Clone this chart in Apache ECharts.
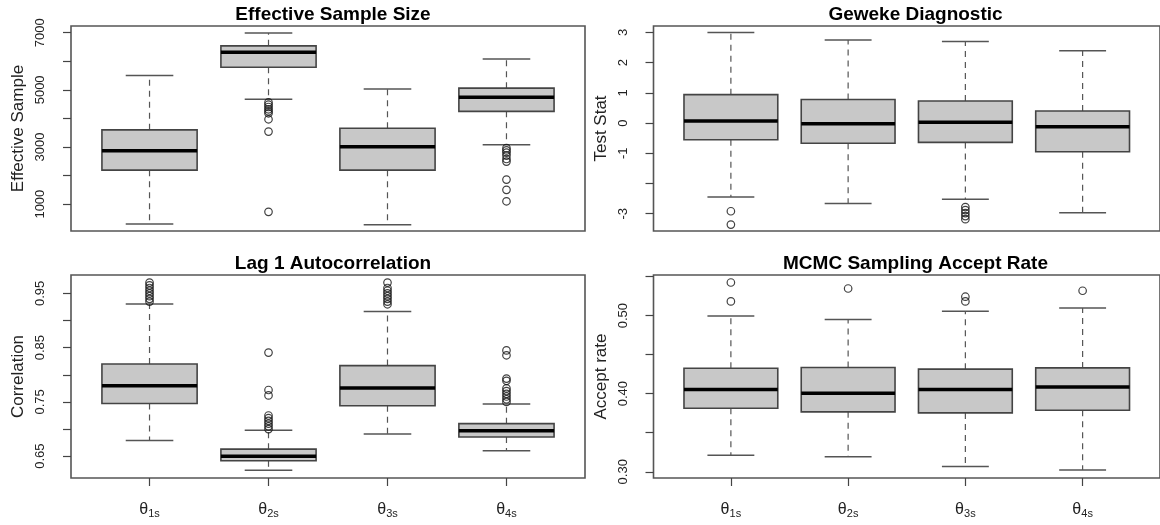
<!DOCTYPE html>
<html>
<head>
<meta charset="utf-8">
<script src="https://cdn.jsdelivr.net/npm/echarts@6/dist/echarts.min.js"></script>
<style>
  html, body { margin: 0; padding: 0; background: #fff; }
  #chart { width: 1160px; height: 525px; }
</style>
</head>
<body>
<div id="chart"></div>
<script>
// 参数名称 (θ 的下标)
var paramSubs = ['1s', '2s', '3s', '4s']

// 每个参数的箱线统计 [min, q1, median, q3, max]
var essStats = [
  [305, 2190, 2870, 3600, 5506],
  [4670, 5790, 6320, 6540, 6990],
  [283, 2190, 3010, 3657, 5034],
  [3082, 4247, 4740, 5060, 6082]
]
var essOutliers = [
  [2, 4560], [2, 4480], [2, 4400], [2, 4320], [2, 4250], [2, 4180], [2, 3970], [2, 3540], [2, 730],
  [4, 2960], [4, 2880], [4, 2800], [4, 2700], [4, 2580], [4, 2490], [4, 1860], [4, 1500], [4, 1100]
]

var gewekeStats = [
  [-2.45, -0.55, 0.07, 0.94, 3.0],
  [-2.66, -0.67, -0.02, 0.78, 2.75],
  [-2.52, -0.64, 0.03, 0.73, 2.70],
  [-2.97, -0.95, -0.12, 0.40, 2.39]
]
var gewekeOutliers = [
  [1, -2.92], [1, -3.36],
  [3, -2.78], [3, -2.88], [3, -2.98], [3, -3.08], [3, -3.18]
]

var lagStats = [
  [0.679, 0.747, 0.780, 0.820, 0.9305],
  [0.624, 0.6415, 0.650, 0.663, 0.698],
  [0.691, 0.743, 0.7756, 0.817, 0.9165],
  [0.660, 0.6854, 0.697, 0.710, 0.746]
]
var lagOutliers = [
  [1, 0.935], [1, 0.94], [1, 0.945], [1, 0.95], [1, 0.955], [1, 0.96], [1, 0.965], [1, 0.97],
  [2, 0.841], [2, 0.772], [2, 0.762], [2, 0.725], [2, 0.72], [2, 0.715], [2, 0.71], [2, 0.705], [2, 0.70],
  [3, 0.93], [3, 0.935], [3, 0.94], [3, 0.945], [3, 0.95], [3, 0.955], [3, 0.96], [3, 0.97],
  [4, 0.845], [4, 0.836], [4, 0.793], [4, 0.789], [4, 0.775], [4, 0.77], [4, 0.765], [4, 0.76], [4, 0.755], [4, 0.75]
]

var acceptStats = [
  [0.3212, 0.3814, 0.4055, 0.4326, 0.4996],
  [0.3191, 0.3767, 0.4004, 0.4335, 0.4949],
  [0.3068, 0.3754, 0.4055, 0.4314, 0.5055],
  [0.3021, 0.3788, 0.4085, 0.4330, 0.5097]
]
var acceptOutliers = [
  [1, 0.5424], [1, 0.5182],
  [2, 0.5347],
  [3, 0.5242], [3, 0.5182],
  [4, 0.5318]
]

// y 轴刻度 / 标签
var essTicks = [1000, 2000, 3000, 4000, 5000, 6000, 7000]
var essLabels = [1000, 3000, 5000, 7000]
var gewekeTicks = [-3, -2, -1, 0, 1, 2, 3]
var gewekeLabels = [-3, -1, 0, 1, 2, 3]
var lagTicks = [0.65, 0.70, 0.75, 0.80, 0.85, 0.90, 0.95]
var lagLabels = [0.65, 0.75, 0.85, 0.95]
var acceptTicks = [0.30, 0.35, 0.40, 0.45, 0.50, 0.55]
var acceptLabels = [0.30, 0.40, 0.50]

var FONT = 'Liberation Sans, Arial, Helvetica, sans-serif'

// 画 R 风格的箱线图
function renderBox (params, api) {
  var x = api.value(0)
  var pMin = api.coord([x, api.value(1)])
  var pQ1 = api.coord([x, api.value(2)])
  var pMed = api.coord([x, api.value(3)])
  var pQ3 = api.coord([x, api.value(4)])
  var pMax = api.coord([x, api.value(5)])
  var w = api.size([0.8, 0])[0]
  var cx = pMed[0]
  var whisker = { stroke: '#555', lineWidth: 1.2, lineDash: [6, 5] }
  var cap = { stroke: '#555', lineWidth: 1.5 }
  return {
    type: 'group',
    children: [
      { type: 'line', shape: { x1: cx, y1: pQ3[1], x2: cx, y2: pMax[1] }, style: whisker },
      { type: 'line', shape: { x1: cx, y1: pQ1[1], x2: cx, y2: pMin[1] }, style: whisker },
      { type: 'line', shape: { x1: cx - w / 4, y1: pMax[1], x2: cx + w / 4, y2: pMax[1] }, style: cap },
      { type: 'line', shape: { x1: cx - w / 4, y1: pMin[1], x2: cx + w / 4, y2: pMin[1] }, style: cap },
      {
        type: 'rect',
        shape: { x: cx - w / 2, y: pQ3[1], width: w, height: pQ1[1] - pQ3[1] },
        style: { fill: '#c8c8c8', stroke: '#444', lineWidth: 1.6 }
      },
      { type: 'line', shape: { x1: cx - w / 2, y1: pMed[1], x2: cx + w / 2, y2: pMed[1] }, style: { stroke: '#000', lineWidth: 3.5 } }
    ]
  }
}

function boxData (stats) {
  var out = []
  for (let i = 0; i < stats.length; i++) {
    out.push([i + 1].concat(stats[i]))
  }
  return out
}

// 面板位置
var panels = [
  { title: 'Effective Sample Size', yName: 'Effective Sample', left: 71, top: 26, height: 205, min: 60, max: 7235, ticks: essTicks, labels: essLabels, digits: 0, stats: essStats, outliers: essOutliers, xLabels: false },
  { title: 'Geweke Diagnostic', yName: 'Test Stat', left: 653.5, top: 26, height: 205, min: -3.573, max: 3.213, ticks: gewekeTicks, labels: gewekeLabels, digits: 0, stats: gewekeStats, outliers: gewekeOutliers, xLabels: false },
  { title: 'Lag 1 Autocorrelation', yName: 'Correlation', left: 71, top: 275, height: 203, min: 0.6098, max: 0.984, ticks: lagTicks, labels: lagLabels, digits: 2, stats: lagStats, outliers: lagOutliers, xLabels: true },
  { title: 'MCMC Sampling Accept Rate', yName: 'Accept rate', left: 653.5, top: 275, height: 203, min: 0.292, max: 0.552, ticks: acceptTicks, labels: acceptLabels, digits: 2, stats: acceptStats, outliers: acceptOutliers, xLabels: true }
]
var PW = 514

var option = { animation: false, title: [], grid: [], xAxis: [], yAxis: [], series: [] }

for (let i = 0; i < panels.length; i++) {
  var p = panels[i]
  option.title.push({
    text: p.title,
    left: p.left + PW / 2,
    top: p.top - 26,
    textAlign: 'center',
    textStyle: { fontFamily: FONT, fontSize: 19, fontWeight: 'bold', color: '#000' }
  })
  option.grid.push({
    left: p.left,
    top: p.top,
    width: PW,
    height: p.height,
    show: true,
    borderColor: '#555',
    borderWidth: 1.6,
    backgroundColor: 'transparent'
  })
  option.xAxis.push({
    type: 'value',
    gridIndex: i,
    min: 0.34,
    max: 4.66,
    splitLine: { show: false },
    axisLine: { show: false },
    axisTick: { show: p.xLabels, customValues: [1, 2, 3, 4], length: 8, lineStyle: { color: '#444', width: 1.2 } },
    axisLabel: {
      show: p.xLabels,
      customValues: [1, 2, 3, 4],
      margin: 22,
      formatter: function (v) {
        return '{t|θ}{s|' + paramSubs[Math.round(v) - 1] + '}'
      },
      rich: {
        t: { fontFamily: FONT, fontSize: 16, color: '#222' },
        s: { fontFamily: FONT, fontSize: 11, color: '#222', padding: [8, 0, 0, 0] }
      }
    }
  })
  var digits = p.digits
  option.yAxis.push({
    type: 'value',
    gridIndex: i,
    min: p.min,
    max: p.max,
    splitLine: { show: false },
    axisLine: { show: false },
    axisTick: { show: true, customValues: p.ticks, length: 8, lineStyle: { color: '#444', width: 1.2 } },
    axisLabel: {
      customValues: p.labels,
      rotate: 90,
      margin: 24,
      fontFamily: FONT,
      fontSize: 13,
      color: '#222',
      formatter: (function (d) {
        return function (v) { return v.toFixed(d) }
      })(digits)
    },
    name: p.yName,
    nameLocation: 'middle',
    nameRotate: 90,
    nameGap: 44,
    nameTextStyle: { fontFamily: FONT, fontSize: 17, color: '#222' }
  })
  option.series.push({
    type: 'custom',
    xAxisIndex: i,
    yAxisIndex: i,
    renderItem: renderBox,
    encode: { x: 0, y: [1, 2, 3, 4, 5] },
    data: boxData(p.stats)
  })
  option.series.push({
    type: 'scatter',
    xAxisIndex: i,
    yAxisIndex: i,
    symbol: 'circle',
    symbolSize: 7.5,
    itemStyle: { color: 'rgba(0,0,0,0)', borderColor: '#111', borderWidth: 1.2 },
    data: p.outliers
  })
}

var chart = echarts.init(document.getElementById('chart'))
chart.setOption(option)
</script>
</body>
</html>
